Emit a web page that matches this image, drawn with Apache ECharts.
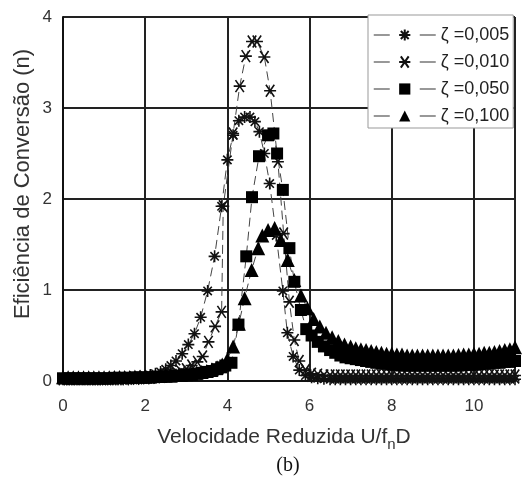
<!DOCTYPE html>
<html>
<head>
<meta charset="utf-8">
<script src="https://cdn.jsdelivr.net/npm/echarts@6/dist/echarts.min.js"></script>
<style>html,body{margin:0;padding:0;background:#fff}#c{width:531px;height:486px}</style>
</head>
<body>
<div id="c"></div>
<script>
var seriesNames = ['ζ =0,005', 'ζ =0,010', 'ζ =0,050', 'ζ =0,100'];
var xTicks = [0, 2, 4, 6, 8, 10];
var yTicks = [0, 1, 2, 3, 4];

var zeta005 = [[0,0.02],[0.125,0.02],[0.25,0.02],[0.375,0.02],[0.5,0.02],[0.625,0.02],[0.75,0.02],[0.875,0.02],[1,0.025],[1.125,0.025],[1.25,0.03],[1.375,0.03],[1.5,0.035],[1.625,0.04],[1.75,0.045],[1.875,0.05],[2,0.055],[2.125,0.065],[2.25,0.08],[2.375,0.1],[2.5,0.13],[2.625,0.17],[2.75,0.22],[2.9,0.3],[3.05,0.4],[3.2,0.52],[3.35,0.7],[3.52,0.99],[3.69,1.37],[3.86,1.92],[4.0,2.43],[4.14,2.7],[4.28,2.86],[4.42,2.9],[4.55,2.9],[4.67,2.85],[4.78,2.74],[4.9,2.5],[5.03,2.17],[5.19,1.6],[5.35,0.99],[5.46,0.53],[5.6,0.27],[5.75,0.12],[5.9,0.06],[6.05,0.04],[6.2,0.03],[6.35,0.025],[6.5,0.02],[6.625,0.02],[6.75,0.02],[6.875,0.02],[7,0.02],[7.125,0.02],[7.25,0.02],[7.375,0.02],[7.5,0.02],[7.625,0.02],[7.75,0.02],[7.875,0.02],[8,0.02],[8.125,0.02],[8.25,0.02],[8.375,0.02],[8.5,0.02],[8.625,0.02],[8.75,0.02],[8.875,0.02],[9,0.02],[9.125,0.02],[9.25,0.02],[9.375,0.02],[9.5,0.02],[9.625,0.02],[9.75,0.02],[9.875,0.02],[10,0.02],[10.125,0.02],[10.25,0.02],[10.375,0.02],[10.5,0.02],[10.625,0.02],[10.75,0.02],[10.875,0.02],[11,0.02]];

var zeta010 = [[0,0.02],[0.125,0.02],[0.25,0.02],[0.375,0.02],[0.5,0.02],[0.625,0.02],[0.75,0.02],[0.875,0.02],[1,0.02],[1.125,0.02],[1.25,0.02],[1.375,0.02],[1.5,0.02],[1.625,0.025],[1.75,0.025],[1.875,0.03],[2,0.03],[2.125,0.035],[2.25,0.04],[2.375,0.045],[2.5,0.055],[2.625,0.065],[2.75,0.08],[2.875,0.1],[3.0,0.13],[3.13,0.17],[3.27,0.21],[3.4,0.27],[3.54,0.43],[3.7,0.6],[3.86,0.76],[3.9,1.92],[4.14,2.72],[4.3,3.24],[4.45,3.57],[4.6,3.73],[4.72,3.73],[4.9,3.56],[5.04,3.19],[5.23,2.41],[5.37,1.62],[5.51,0.87],[5.63,0.45],[5.75,0.22],[5.9,0.12],[6.05,0.08],[6.2,0.07],[6.35,0.06],[6.5,0.06],[6.625,0.06],[6.75,0.06],[6.875,0.06],[7,0.06],[7.125,0.06],[7.25,0.06],[7.375,0.06],[7.5,0.06],[7.625,0.06],[7.75,0.06],[7.875,0.06],[8,0.06],[8.125,0.06],[8.25,0.06],[8.375,0.06],[8.5,0.06],[8.625,0.06],[8.75,0.06],[8.875,0.06],[9,0.06],[9.125,0.06],[9.25,0.06],[9.375,0.06],[9.5,0.06],[9.625,0.06],[9.75,0.06],[9.875,0.06],[10,0.06],[10.125,0.06],[10.25,0.06],[10.375,0.06],[10.5,0.06],[10.625,0.06],[10.75,0.06],[10.875,0.06],[11,0.06]];

var zeta050 = [[0,0.03],[0.125,0.03],[0.25,0.03],[0.375,0.03],[0.5,0.03],[0.625,0.03],[0.75,0.03],[0.875,0.03],[1,0.03],[1.125,0.03],[1.25,0.035],[1.375,0.035],[1.5,0.035],[1.625,0.035],[1.75,0.04],[1.875,0.04],[2,0.04],[2.125,0.04],[2.25,0.045],[2.375,0.045],[2.5,0.05],[2.625,0.05],[2.75,0.055],[2.875,0.06],[3.0,0.065],[3.125,0.07],[3.25,0.08],[3.375,0.09],[3.5,0.1],[3.625,0.11],[3.75,0.13],[3.85,0.15],[3.95,0.17],[4.1,0.2],[4.27,0.62],[4.46,1.37],[4.6,2.02],[4.77,2.47],[4.99,2.7],[5.12,2.72],[5.21,2.5],[5.35,2.1],[5.51,1.46],[5.63,1.09],[5.79,0.78],[5.92,0.57],[6.05,0.5],[6.2,0.43],[6.35,0.38],[6.5,0.34],[6.625,0.31],[6.75,0.28],[6.875,0.26],[7,0.25],[7.125,0.24],[7.25,0.23],[7.375,0.22],[7.5,0.21],[7.625,0.2],[7.75,0.19],[7.875,0.19],[8,0.18],[8.125,0.18],[8.25,0.17],[8.375,0.17],[8.5,0.17],[8.625,0.17],[8.75,0.17],[8.875,0.17],[9,0.17],[9.125,0.17],[9.25,0.17],[9.375,0.17],[9.5,0.17],[9.625,0.17],[9.75,0.175],[9.875,0.18],[10,0.18],[10.125,0.185],[10.25,0.19],[10.375,0.19],[10.5,0.2],[10.625,0.2],[10.75,0.21],[10.875,0.21],[11,0.22]];

var zeta100 = [[0,0.04],[0.125,0.04],[0.25,0.04],[0.375,0.04],[0.5,0.04],[0.625,0.04],[0.75,0.04],[0.875,0.04],[1,0.04],[1.125,0.04],[1.25,0.045],[1.375,0.045],[1.5,0.045],[1.625,0.045],[1.75,0.05],[1.875,0.05],[2,0.05],[2.125,0.05],[2.25,0.055],[2.375,0.055],[2.5,0.06],[2.625,0.06],[2.75,0.065],[2.875,0.07],[3.0,0.075],[3.125,0.08],[3.25,0.09],[3.375,0.1],[3.5,0.11],[3.625,0.13],[3.75,0.15],[3.875,0.18],[4.0,0.24],[4.14,0.38],[4.28,0.63],[4.42,0.91],[4.59,1.22],[4.75,1.46],[4.85,1.6],[4.99,1.66],[5.15,1.68],[5.3,1.55],[5.47,1.33],[5.63,1.11],[5.79,0.94],[5.95,0.8],[6.1,0.68],[6.25,0.6],[6.4,0.53],[6.55,0.48],[6.7,0.44],[6.85,0.4],[7,0.38],[7.125,0.36],[7.25,0.35],[7.375,0.34],[7.5,0.33],[7.625,0.32],[7.75,0.31],[7.875,0.3],[8,0.3],[8.125,0.29],[8.25,0.29],[8.375,0.28],[8.5,0.28],[8.625,0.28],[8.75,0.28],[8.875,0.28],[9,0.28],[9.125,0.28],[9.25,0.28],[9.375,0.28],[9.5,0.28],[9.625,0.285],[9.75,0.29],[9.875,0.29],[10,0.3],[10.125,0.3],[10.25,0.31],[10.375,0.31],[10.5,0.32],[10.625,0.33],[10.75,0.34],[10.875,0.35],[11,0.37]];

var FONT = '"Liberation Sans", Arial, sans-serif';
var asteriskPath = 'path://M0,5L10,5M5,0L5,10M1.5,1.5L8.5,8.5M8.5,1.5L1.5,8.5';
var crossPath = 'path://M0,5L10,5M1.5,1.5L8.5,8.5M8.5,1.5L1.5,8.5';

function mk(name, data, symbol, size, stroke) {
  return {
    name: name, type: 'line', data: data,
    symbol: symbol, symbolSize: size,
    showAllSymbol: true,
    lineStyle: {color: '#444', width: 1, type: [9, 5]},
    itemStyle: stroke ? {color: '#111', borderColor: '#111', borderWidth: 1.6}
                      : {color: '#000', borderWidth: 0},
    emphasis: {disabled: true},
    animation: false
  };
}

var chart = echarts.init(document.getElementById('c'), null, {renderer: 'canvas'});
chart.setOption({
  animation: false,
  grid: {left: 63, right: 16, top: 17, bottom: 105, show: true, borderColor: '#aaa', borderWidth: 1},
  xAxis: {
    type: 'value', min: 0, max: 11, interval: 2,
    axisLine: {show: true, onZero: false, lineStyle: {color: '#111', width: 2}},
    axisTick: {show: false},
    axisLabel: {color: '#333', fontSize: 17, fontFamily: FONT, margin: 17,
      formatter: function (v) { return xTicks.indexOf(v) >= 0 ? String(v) : ''; }},
    splitLine: {show: true, lineStyle: {color: '#222', width: 2}}
  },
  yAxis: {
    type: 'value', min: 0, max: 4, interval: 1,
    axisLine: {show: true, onZero: false, lineStyle: {color: '#111', width: 2}},
    axisTick: {show: false},
    axisLabel: {color: '#333', fontSize: 17, fontFamily: FONT, margin: 11,
      formatter: function (v) { return yTicks.indexOf(v) >= 0 ? String(v) : ''; }},
    splitLine: {show: true, lineStyle: {color: '#222', width: 2}}
  },
  legend: {
    orient: 'vertical', left: 368, top: 15,
    backgroundColor: '#fff', borderColor: '#999', borderWidth: 1,
    padding: [11, 4, 3, 5], itemGap: 9, itemWidth: 62, itemHeight: 14,
    lineStyle: {type: [16, 30], width: 1.5, color: '#777'},
    textStyle: {fontSize: 18, color: '#222', fontFamily: FONT},
    data: seriesNames
  },
  series: [
    mk(seriesNames[0], zeta005, asteriskPath, 12, true),
    mk(seriesNames[1], zeta010, crossPath, 12, true),
    mk(seriesNames[2], zeta050, 'rect', 12, false),
    mk(seriesNames[3], zeta100, 'triangle', 14, false)
  ],
  graphic: [
    {type: 'text', x: 23, y: 184, rotation: Math.PI / 2,
     style: {text: 'Eficiência de Conversão (n)', fill: '#333', font: '22px ' + FONT, textAlign: 'center', textVerticalAlign: 'middle'}},
    {type: 'text', x: 284, y: 437,
     style: {text: '{a|Velocidade Reduzida U/f}{s|n}{a|D}', textAlign: 'center', textVerticalAlign: 'middle',
       rich: {a: {fontSize: 21, fontFamily: FONT, fill: '#333', height: 24},
              s: {fontSize: 15, fontFamily: FONT, fill: '#333', padding: [16, 0, 0, 0]}}}},
    {type: 'text', x: 288, y: 466,
     style: {text: '(b)', fill: '#111', font: '20px "Liberation Serif", "Times New Roman", serif', textAlign: 'center', textVerticalAlign: 'middle'}}
  ]
});
</script>
</body>
</html>
